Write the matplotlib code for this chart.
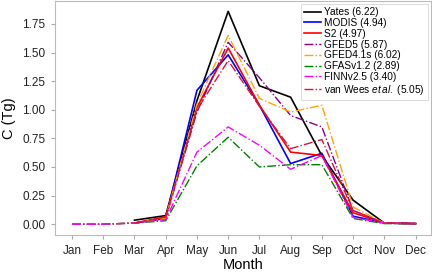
import matplotlib
matplotlib.use("Agg")
import matplotlib.pyplot as plt
import numpy as np

plt.rcParams['font.family'] = ['Liberation Sans', 'DejaVu Sans']
plt.rcParams['mathtext.fontset'] = 'custom'
plt.rcParams['mathtext.it'] = 'Liberation Sans:italic'
plt.rcParams['mathtext.rm'] = 'Liberation Sans'

months = ["Jan", "Feb", "Mar", "Apr", "May", "Jun", "Jul", "Aug", "Sep", "Oct", "Nov", "Dec"]
nan = np.nan

yates = [nan, nan, 0.035, 0.075, 1.08, 1.86, 1.21, 1.11, 0.60, 0.21, 0.01, 0.005]
modis = [nan, nan, 0.01, 0.05, 1.17, 1.48, 1.04, 0.53, 0.62, 0.07, 0.01, 0.005]
s2 = [nan, nan, 0.01, 0.065, 1.02, 1.54, 1.04, 0.63, 0.60, 0.10, 0.01, 0.005]
gfed5 = [0.0, 0.0, 0.01, 0.05, 0.98, 1.59, 1.28, 0.95, 0.85, 0.12, 0.01, 0.005]
gfed41s = [0.0, 0.0, 0.01, 0.05, 1.05, 1.65, 1.10, 0.98, 1.04, 0.15, 0.01, 0.005]
gfas = [0.0, 0.0, 0.01, 0.03, 0.51, 0.76, 0.50, 0.52, 0.52, 0.05, 0.005, 0.005]
finn = [0.0, 0.0, 0.01, 0.04, 0.63, 0.85, 0.69, 0.48, 0.60, 0.06, 0.01, 0.005]
vanwees = [nan, nan, 0.01, 0.06, 1.00, 1.43, 1.03, 0.66, 0.74, 0.12, 0.01, 0.005]

series = [
    (yates, "Yates (6.22)", "black", "-"),
    (modis, "MODIS (4.94)", "blue", "-"),
    (s2, "S2 (4.97)", "red", "-"),
    (gfed5, "GFED5 (5.87)", "darkmagenta", "-."),
    (gfed41s, "GFED4.1s (6.02)", "orange", "-."),
    (gfas, "GFASv1.2 (2.89)", "green", "-."),
    (finn, "FINNv2.5 (3.40)", "magenta", "-."),
    (vanwees, "van Wees $et\\,al.$ (5.05)", "crimson", "-."),
]

fig = plt.figure(figsize=(4.32, 2.73), dpi=100)
ax = fig.add_axes([0.127, 0.139, 0.871, 0.857])

x = np.arange(len(months))
for vals, lab, col, ls in series:
    lw = 1.2 if ls == "-" else 1.0
    ax.plot(x, vals, color=col, linestyle=ls, linewidth=lw, label=lab)

ax.set_xlim(-0.55, 11.5)
ax.set_ylim(-0.095, 1.95)
ax.set_xticks(x)
ax.set_xticklabels(months)
ax.set_yticks([0, 0.25, 0.5, 0.75, 1.0, 1.25, 1.5, 1.75])
ax.set_yticklabels(["0.00", "0.25", "0.50", "0.75", "1.00", "1.25", "1.50", "1.75"])
ax.tick_params(labelsize=8.5, length=3, colors="#222222", pad=4)
ax.tick_params(axis="both", color="#aaaaaa")
for sp in ax.spines.values():
    sp.set_color("#bbbbbb")
ax.set_xlabel("Month", fontsize=10.5, labelpad=1)
ax.set_ylabel("C (Tg)", fontsize=10.5, labelpad=4)

leg = ax.legend(loc="upper right", fontsize=7.3, labelspacing=0.08, handlelength=1.7,
                handletextpad=0.3, borderpad=0.3, borderaxespad=0.3, fancybox=False,
                framealpha=1)
leg.get_frame().set_edgecolor("#dddddd")
leg.get_frame().set_linewidth(0.8)

fig.savefig("out.png", dpi=100)
